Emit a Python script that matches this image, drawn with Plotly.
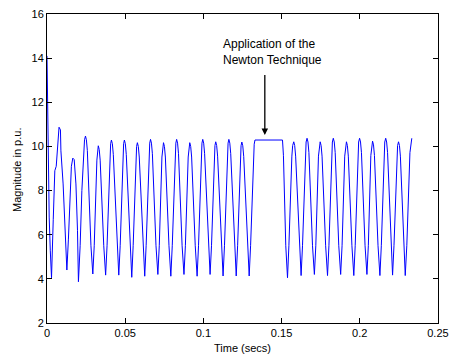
import plotly.graph_objects as go

# --- data ---
# start-up transient
t_transient = [0.0000, 0.0003, 0.0005, 0.0008, 0.0014, 0.0021, 0.0029, 0.0040, 0.0050,
               0.0059, 0.0072, 0.0077, 0.0086, 0.0089, 0.0103, 0.0114, 0.0123, 0.0127,
               0.0137, 0.0148, 0.0156, 0.0165, 0.0174, 0.0185, 0.0195, 0.0201, 0.0212,
               0.0223, 0.0233, 0.0240]
v_transient = [14.1, 12.0, 11.9, 8.9, 6.8, 5.3, 4.05, 6.7, 8.9,
               9.1, 10.4, 10.87, 10.75, 9.8, 8.3, 6.6, 5.3, 4.4,
               5.8, 8.3, 9.1, 9.47, 9.4, 8.3, 6.2, 3.87, 5.5,
               8.0, 9.8, 10.3]

# steady oscillation before the Newton technique
t_before = [0.0246, 0.0252, 0.0258, 0.0281, 0.0293, 0.0302, 0.0319, 0.0323,
            0.0328, 0.0334, 0.0340, 0.0363, 0.0375, 0.0384, 0.0402, 0.0407,
            0.0412, 0.0418, 0.0424, 0.0447, 0.0459, 0.0468, 0.0485, 0.0490,
            0.0495, 0.0501, 0.0507, 0.0530, 0.0542, 0.0551, 0.0568, 0.0573,
            0.0578, 0.0584, 0.0590, 0.0613, 0.0625, 0.0634, 0.0652, 0.0657,
            0.0662, 0.0668, 0.0674, 0.0697, 0.0709, 0.0718, 0.0735, 0.0740,
            0.0745, 0.0751, 0.0757, 0.0780, 0.0792, 0.0801, 0.0819, 0.0824,
            0.0829, 0.0835, 0.0841, 0.0864, 0.0876, 0.0885, 0.0903, 0.0908,
            0.0913, 0.0919, 0.0925, 0.0948, 0.0960, 0.0969, 0.0986, 0.0991,
            0.0996, 0.1002, 0.1008, 0.1031, 0.1043, 0.1052, 0.1069, 0.1074,
            0.1079, 0.1085, 0.1091, 0.1114, 0.1126, 0.1135, 0.1153, 0.1158,
            0.1163, 0.1169, 0.1175, 0.1198, 0.1210, 0.1219, 0.1236, 0.1241,
            0.1246, 0.1252, 0.1258, 0.1281, 0.1293, 0.1302, 0.1320, 0.1325]
v_before = [10.47, 10.30, 9.82, 5.5, 4.22, 5.5, 9.38, 9.86,
            10.03, 9.86, 9.38, 5.5, 4.17, 5.5, 9.64, 10.12,
            10.29, 10.12, 9.64, 5.5, 4.17, 5.5, 9.64, 10.12,
            10.29, 10.12, 9.64, 5.5, 4.07, 5.5, 9.52, 10.0,
            10.17, 10.0, 9.52, 5.5, 4.12, 5.5, 9.67, 10.15,
            10.32, 10.15, 9.67, 5.5, 4.2, 5.5, 9.52, 10.0,
            10.17, 10.0, 9.52, 5.5, 4.12, 5.5, 9.67, 10.15,
            10.32, 10.15, 9.67, 5.5, 4.2, 5.5, 9.52, 10.0,
            10.17, 10.0, 9.52, 5.5, 4.12, 5.5, 9.67, 10.15,
            10.32, 10.15, 9.67, 5.5, 4.2, 5.5, 9.56, 10.04,
            10.21, 10.04, 9.56, 5.5, 4.13, 5.5, 9.67, 10.15,
            10.32, 10.15, 9.67, 5.5, 4.13, 5.5, 9.55, 10.03,
            10.2, 10.03, 9.55, 5.5, 4.13, 5.5, 9.65, 10.1]

# Newton technique applied: magnitude held flat
t_newton = [0.1330, 0.1506, 0.1512, 0.1527, 0.1538, 0.1547, 0.1566, 0.1571]
v_newton = [10.29, 10.29, 9.6, 5.5, 4.05, 5.5, 9.56, 10.04]

# oscillation after the Newton technique
t_after = [0.1578, 0.1584, 0.1590, 0.1613, 0.1625, 0.1634, 0.1652, 0.1657,
           0.1663, 0.1669, 0.1675, 0.1698, 0.1710, 0.1719, 0.1736, 0.1741,
           0.1747, 0.1753, 0.1759, 0.1782, 0.1794, 0.1803, 0.1820, 0.1825,
           0.1831, 0.1837, 0.1843, 0.1866, 0.1878, 0.1887, 0.1904, 0.1909,
           0.1915, 0.1921, 0.1927, 0.1950, 0.1962, 0.1971, 0.1988, 0.1993,
           0.1999, 0.2005, 0.2011, 0.2034, 0.2046, 0.2055, 0.2071, 0.2076,
           0.2082, 0.2088, 0.2094, 0.2117, 0.2129, 0.2138, 0.2155, 0.2160,
           0.2166, 0.2172, 0.2178, 0.2200, 0.2210, 0.2219, 0.2237, 0.2242,
           0.2248, 0.2254, 0.2260, 0.2280, 0.2291, 0.2301, 0.2321, 0.2333]
v_after = [10.21, 10.04, 9.56, 5.5, 4.15, 5.5, 9.72, 10.2,
           10.37, 10.2, 9.72, 5.5, 4.2, 5.5, 9.56, 10.04,
           10.21, 10.04, 9.56, 5.5, 4.15, 5.5, 9.72, 10.2,
           10.37, 10.2, 9.72, 5.5, 4.2, 5.5, 9.56, 10.04,
           10.21, 10.04, 9.56, 5.5, 4.15, 5.5, 9.72, 10.2,
           10.37, 10.2, 9.72, 5.5, 4.2, 5.5, 9.59, 10.07,
           10.24, 10.07, 9.59, 5.5, 4.15, 5.5, 9.72, 10.2,
           10.37, 10.2, 9.72, 5.5, 4.17, 5.5, 9.56, 10.04,
           10.21, 10.04, 9.56, 5.5, 4.15, 5.5, 9.72, 10.37]

x_ticks = [0, 0.05, 0.1, 0.15, 0.2, 0.25]
x_tick_text = ["0", "0.05", "0.1", "0.15", "0.2", "0.25"]
y_ticks = [2, 4, 6, 8, 10, 12, 14, 16]
y_tick_text = ["2", "4", "6", "8", "10", "12", "14", "16"]

x_title = "Time (secs)"
y_title = "Magnitude in p.u."
annotation_text = "Application of the<br>Newton Technique"
annotation_x = 0.1112
annotation_y = 14.27
arrow_x = 0.1393
arrow_tip_y = 10.52
arrow_tail_y = 13.3

t_all = t_transient + t_before + t_newton + t_after
v_all = v_transient + v_before + v_newton + v_after

FONT = "Liberation Sans, Arial, sans-serif"

fig = go.Figure()
fig.add_trace(go.Scatter(x=t_all, y=v_all, mode="lines",
                         line=dict(color="#0000ff", width=1),
                         showlegend=False, hoverinfo="skip"))

axis_common = dict(showline=True, linecolor="black", linewidth=1, mirror="ticks",
                   ticks="inside", ticklen=5, tickwidth=1, tickcolor="black",
                   showgrid=False, zeroline=False, automargin=False,
                   ticklabeloverflow="allow",
                   tickfont=dict(family=FONT, size=11, color="black"))

fig.update_xaxes(range=[0, 0.25005], tickvals=x_ticks, ticktext=x_tick_text, **axis_common)
fig.update_yaxes(range=[2, 16], tickvals=y_ticks, ticktext=y_tick_text, **axis_common)

# axis titles placed as paper annotations for exact placement
fig.add_annotation(x=0.5, y=-0.081, xref="paper", yref="paper", text=x_title,
                   showarrow=False, xanchor="center", yanchor="middle",
                   font=dict(family=FONT, size=11, color="black"))
fig.add_annotation(x=-0.077, y=0.495, xref="paper", yref="paper", text=y_title,
                   showarrow=False, xanchor="center", yanchor="middle", textangle=-90,
                   font=dict(family=FONT, size=11, color="black"))

fig.add_annotation(x=arrow_x, y=arrow_tip_y, ax=arrow_x, ay=arrow_tail_y,
                   xref="x", yref="y", axref="x", ayref="y",
                   text="", showarrow=True, arrowhead=2, arrowsize=1,
                   arrowwidth=1.3, arrowcolor="black", standoff=0, startstandoff=0)
fig.add_annotation(x=annotation_x, y=annotation_y, xref="x", yref="y",
                   text=annotation_text, showarrow=False, align="left",
                   xanchor="left", yanchor="middle",
                   font=dict(family=FONT, size=12, color="black"))

fig.update_layout(width=451, height=354,
                  margin=dict(l=47, r=13, t=14, b=31),
                  paper_bgcolor="white", plot_bgcolor="white")

# remove the default page margin so the figure fills the 451x354 window exactly
fig.write_html("out.html",
               config={"displayModeBar": False, "staticPlot": True},
               post_script="document.body.style.margin='0';document.body.style.overflow='hidden';")
